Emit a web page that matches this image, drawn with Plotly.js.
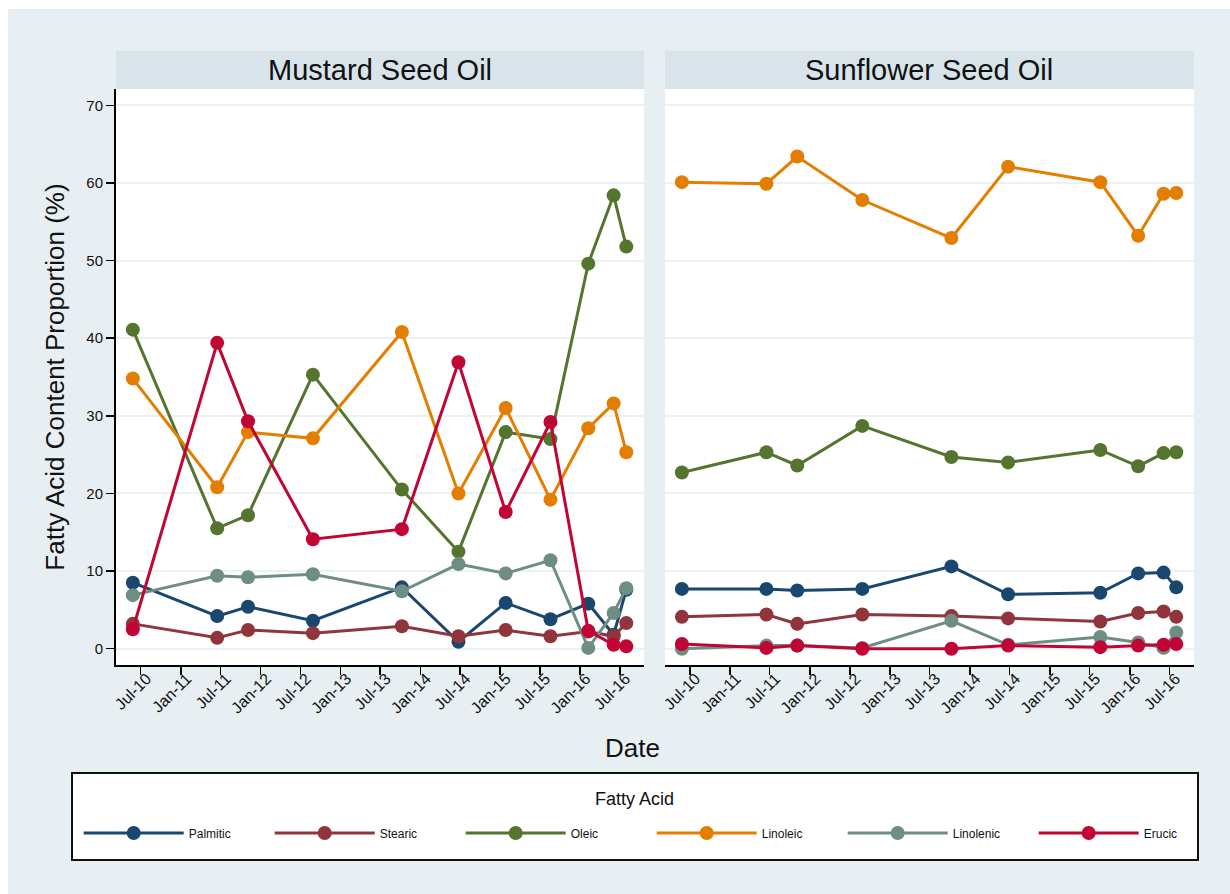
<!DOCTYPE html>
<html>
<head>
<meta charset="utf-8">
<script src="https://cdn.plot.ly/plotly-3.0.1.min.js"></script>
<style>
html,body{margin:0;padding:0;background:#ffffff;}
#plot{position:absolute;left:8px;top:9px;width:1222px;height:885px;}
</style>
</head>
<body>
<div id="plot"></div>
<script>
// ---------------- data ----------------
const acids = ['Palmitic', 'Stearic', 'Oleic', 'Linoleic', 'Linolenic', 'Erucic'];
const acidColors = ['#1a476f', '#90353b', '#55752f', '#e37e00', '#6e8e84', '#c10534'];
const panelTitles = ['Mustard Seed Oil', 'Sunflower Seed Oil'];

const mustardDates = ['2010-05-26', '2011-06-16', '2011-11-04', '2012-08-27', '2013-10-08',
  '2014-06-24', '2015-01-26', '2015-08-19', '2016-02-08', '2016-06-03', '2016-07-31'];
const sunflowerDates = ['2010-05-26', '2011-06-16', '2011-11-04', '2012-08-27', '2013-10-08',
  '2014-06-24', '2015-08-19', '2016-02-08', '2016-06-03', '2016-07-31'];

const mustardPalmitic  = [8.5, 4.2, 5.4, 3.6, 7.9, 0.9, 5.9, 3.8, 5.8, 1.8, 7.6];
const mustardStearic   = [3.2, 1.4, 2.4, 2.0, 2.9, 1.6, 2.4, 1.6, 2.2, 1.6, 3.3];
const mustardOleic     = [41.1, 15.5, 17.2, 35.3, 20.5, 12.5, 27.9, 27.0, 49.6, 58.4, 51.8];
const mustardLinoleic  = [34.8, 20.8, 27.9, 27.1, 40.8, 20.0, 31.0, 19.2, 28.4, 31.6, 25.3];
const mustardLinolenic = [6.9, 9.4, 9.2, 9.6, 7.4, 10.9, 9.7, 11.4, 0.1, 4.6, 7.8];
const mustardErucic    = [2.5, 39.4, 29.3, 14.1, 15.4, 36.9, 17.6, 29.2, 2.3, 0.5, 0.3];

const sunflowerPalmitic  = [7.7, 7.7, 7.5, 7.7, 10.6, 7.0, 7.2, 9.7, 9.8, 7.9];
const sunflowerStearic   = [4.1, 4.4, 3.2, 4.4, 4.2, 3.9, 3.5, 4.6, 4.8, 4.1];
const sunflowerOleic     = [22.7, 25.3, 23.6, 28.7, 24.7, 24.0, 25.6, 23.5, 25.2, 25.3];
const sunflowerLinoleic  = [60.1, 59.9, 63.4, 57.8, 52.9, 62.1, 60.1, 53.2, 58.6, 58.7];
const sunflowerLinolenic = [0.0, 0.4, 0.4, 0.1, 3.6, 0.5, 1.5, 0.8, 0.1, 2.1];
const sunflowerErucic    = [0.6, 0.1, 0.4, 0.0, 0.0, 0.4, 0.2, 0.4, 0.5, 0.6];

const yTickVals = [0, 10, 20, 30, 40, 50, 60, 70];

// ---------------- traces ----------------
const mustardSeries = [mustardPalmitic, mustardStearic, mustardOleic, mustardLinoleic, mustardLinolenic, mustardErucic];
const sunflowerSeries = [sunflowerPalmitic, sunflowerStearic, sunflowerOleic, sunflowerLinoleic, sunflowerLinolenic, sunflowerErucic];

const traces = [];
acids.forEach((name, i) => {
  traces.push({
    type: 'scatter', mode: 'lines+markers', name: name,
    x: mustardDates, y: mustardSeries[i], xaxis: 'x', yaxis: 'y',
    line: {color: acidColors[i], width: 3},
    marker: {color: acidColors[i], size: 14},
    legendgroup: name, showlegend: true
  });
});
acids.forEach((name, i) => {
  traces.push({
    type: 'scatter', mode: 'lines+markers', name: name,
    x: sunflowerDates, y: sunflowerSeries[i], xaxis: 'x2', yaxis: 'y2',
    line: {color: acidColors[i], width: 3},
    marker: {color: acidColors[i], size: 14},
    legendgroup: name, showlegend: false
  });
});

// ---------------- layout ----------------
const FONT = 'Liberation Sans, Arial, sans-serif';
const xCommon = {
  type: 'date', range: ['2010-03-10', '2016-10-20'],
  tick0: '2010-07-01', dtick: 'M6', tickformat: '%b-%y', tickangle: -45,
  ticks: 'outside', ticklen: 8, tickwidth: 1.5, tickcolor: '#000',
  ticklabelstandoff: -12, ticklabelshift: 6,
  showline: true, linecolor: '#000', linewidth: 2,
  showgrid: false, zeroline: false,
  tickfont: {family: FONT, size: 16, color: '#111'}
};
const yCommon = {
  range: [-2.1, 72.1], tickvals: yTickVals,
  showgrid: true, gridcolor: '#eaf2f3', gridwidth: 2, zeroline: false
};

const layout = {
  width: 1222, height: 885,
  paper_bgcolor: '#e8eff2', plot_bgcolor: '#ffffff',
  margin: {l: 108, r: 36, t: 80, b: 229},
  font: {family: FONT, color: '#111'},
  xaxis: Object.assign({}, xCommon, {domain: [0, 0.4898], anchor: 'y'}),
  xaxis2: Object.assign({}, xCommon, {domain: [0.5093, 1], anchor: 'y2'}),
  yaxis: Object.assign({}, yCommon, {
    anchor: 'x', ticks: 'outside', ticklen: 8, tickwidth: 1.5, tickcolor: '#000',
    showline: true, linecolor: '#000', linewidth: 2,
    tickfont: {family: FONT, size: 15, color: '#111'},
    title: {text: 'Fatty Acid Content Proportion (%)', font: {family: FONT, size: 26, color: '#111'}, standoff: 14}
  }),
  yaxis2: Object.assign({}, yCommon, {
    anchor: 'x2', matches: 'y', showticklabels: false, ticks: '', showline: false
  }),
  showlegend: true,
  legend: {
    orientation: 'h', x: -0.0346, xanchor: 'left', y: -0.2917, yanchor: 'middle',
    bgcolor: 'rgba(0,0,0,0)', borderwidth: 0,
    font: {family: FONT, size: 12, color: '#111'},
    itemwidth: 100, entrywidth: 76, entrywidthmode: 'pixels',
    itemclick: false, itemdoubleclick: false
  },
  shapes: [
    {type: 'rect', xref: 'paper', yref: 'paper', x0: 0, x1: 0.4898, y0: 1, y1: 1.0665,
     fillcolor: '#d8e4ea', line: {width: 0}, layer: 'below'},
    {type: 'rect', xref: 'paper', yref: 'paper', x0: 0.5093, x1: 1, y0: 1, y1: 1.0665,
     fillcolor: '#d8e4ea', line: {width: 0}, layer: 'below'},
    {type: 'rect', xref: 'paper', yref: 'paper', x0: -0.0408, x1: 1.0037, y0: -0.3385, y1: -0.1875,
     fillcolor: '#ffffff', line: {width: 2, color: '#111'}, layer: 'below'}
  ],
  annotations: [
    {xref: 'paper', yref: 'paper', x: 0.2449, y: 1.0333, xanchor: 'center', yanchor: 'middle',
     text: panelTitles[0], showarrow: false, font: {family: FONT, size: 29, color: '#111'}},
    {xref: 'paper', yref: 'paper', x: 0.7546, y: 1.0333, xanchor: 'center', yanchor: 'middle',
     text: panelTitles[1], showarrow: false, font: {family: FONT, size: 29, color: '#111'}},
    {xref: 'paper', yref: 'paper', x: 0.4787, y: -0.1441, xanchor: 'center', yanchor: 'middle',
     text: 'Date', showarrow: false, font: {family: FONT, size: 26, color: '#111'}},
    {xref: 'paper', yref: 'paper', x: 0.4814, y: -0.2326, xanchor: 'center', yanchor: 'middle',
     text: 'Fatty Acid', showarrow: false, font: {family: FONT, size: 18, color: '#111'}}
  ]
};

Plotly.newPlot('plot', traces, layout, {displayModeBar: false, staticPlot: true});
</script>
</body>
</html>
